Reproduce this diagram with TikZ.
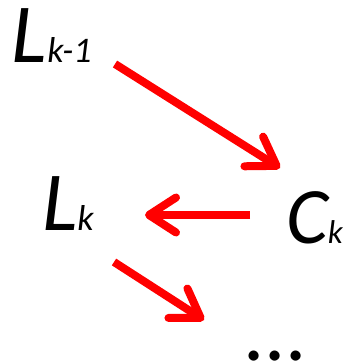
\documentclass[tikz,border=0pt]{standalone}
\usepackage{fontspec}
\setmainfont{Carlito}
\usetikzlibrary{arrows.meta}
\definecolor{arrred}{RGB}{255,0,0}
\tikzset{
  lbl/.style={anchor=base west, inner sep=0pt, outer sep=0pt, text=black},
  arr/.style={draw=arrred, line width=8pt, line cap=butt,
    -{Straight Barb[length=27pt, width=35pt, round]}},
}
\newcommand{\bigL}{\fontsize{84}{84}\selectfont\itshape}
\newcommand{\smallL}{\fontsize{36}{36}\selectfont\itshape}
\newcommand{\bigC}{\fontsize{80}{80}\selectfont\itshape}
\newcommand{\smallC}{\fontsize{33}{33}\selectfont\itshape}
\begin{document}
\begin{tikzpicture}[x=1pt,y=-1pt]
\useasboundingbox (0,0) rectangle (347,364);
\node[lbl] (Lk1) at (12,62) {\bigL L\smallL k-1};
\node[lbl] (Lk) at (42,230) {\bigL L\smallL k};
\node[lbl] (Ck) at (286,243) {\bigC C\smallC k};
\node[lbl, anchor=south west, text depth=0pt, text height=10pt] (dots) at (243,360) {\bigL\upshape ...};
\coordinate (a1s) at (115,64);
\coordinate (a1e) at (280,168);
\coordinate (a2s) at (250,215);
\coordinate (a2e) at (145,215);
\coordinate (a3s) at (114,262);
\coordinate (a3e) at (204,320);
\draw[arr] (a1s) -- (a1e);
\draw[arr] (a2s) -- (a2e);
\draw[arr] (a3s) -- (a3e);
\end{tikzpicture}
\end{document}
